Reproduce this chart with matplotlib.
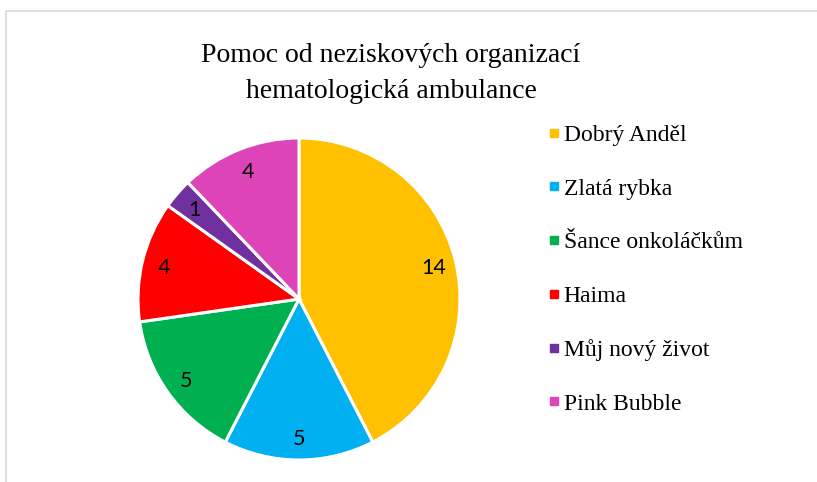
import matplotlib.pyplot as plt
from matplotlib.lines import Line2D
from matplotlib.patches import Rectangle

categories = ["Dobrý Anděl", "Zlatá rybka", "Šance onkoláčkům", "Haima",
              "Můj nový život", "Pink Bubble"]
values = [14, 5, 5, 4, 1, 4]
colors = ["#FFC000", "#00B0F0", "#00B050", "#FF0000", "#7030A0", "#DD44B8"]
title_lines = ["Pomoc od neziskových organizací", "hematologická ambulance"]

W, H = 817, 482
fig = plt.figure(figsize=(W / 100, H / 100), dpi=100)

# light grey chart frame (runs off the right and bottom edge)
fig.patches.append(Rectangle((6 / W, -0.1), 1.2, 1 - 11 / H + 0.1,
                             transform=fig.transFigure, fill=False,
                             edgecolor="#D9D9D9", linewidth=1.2))

# pie axes: centre ~ (299, 299) px, radius ~ 160 px
cx, cy, r = 299, 299, 161
ax = fig.add_axes([(cx - r) / W, (H - cy - r) / H, 2 * r / W, 2 * r / H])

wedges, texts, autotexts = ax.pie(
    values, colors=colors, startangle=90, counterclock=False,
    autopct=lambda p: f"{round(p * sum(values) / 100):d}",
    pctdistance=0.86,
    wedgeprops=dict(edgecolor="white", linewidth=2.2),
    textprops=dict(family=["Lato", "DejaVu Sans"], fontsize=15.5,
                   color="black"))
for t in autotexts:
    t.set_va("center_baseline")
ax.set_xlim(-1, 1)
ax.set_ylim(-1, 1)
ax.set_aspect("equal")

# two title lines, baselines at ~62 and ~98 px
for line, base in zip(title_lines, [62, 98]):
    fig.text(391 / W, 1 - base / H, line, ha="center", va="baseline",
             family="Liberation Serif", fontsize=20)

handles = [Line2D([], [], marker="s", linestyle="none", markersize=5.5,
                  markerfacecolor=c, markeredgecolor=c) for c in colors]
fig.legend(handles, categories, loc="upper left",
           bbox_to_anchor=(540 / W, 1 - 115 / H), frameon=False,
           prop=dict(family="Liberation Serif", size=17),
           handlelength=0.35, handletextpad=0.25, labelspacing=1.36,
           borderaxespad=0)

fig.savefig("out.png", dpi=100)
